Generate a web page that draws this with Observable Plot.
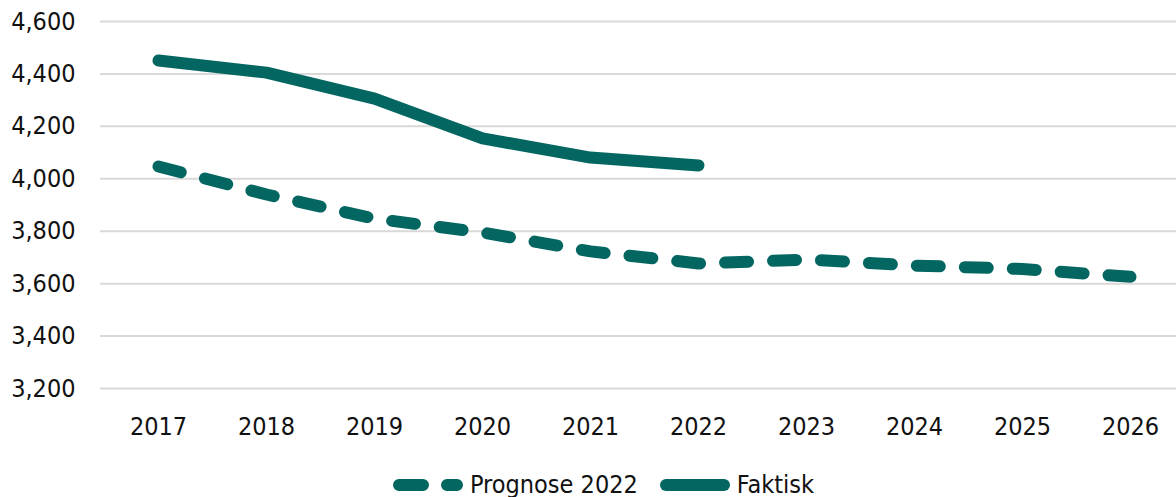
<!DOCTYPE html>
<html>
<head>
<meta charset="utf-8">
<script src="https://cdn.jsdelivr.net/npm/d3@7"></script>
<script src="https://cdn.jsdelivr.net/npm/@observablehq/plot@0.6"></script>
<style>
  html, body { margin: 0; background: #fff; font-family: "DejaVu Sans Condensed", "DejaVu Sans", sans-serif; font-stretch: condensed; overflow: hidden; }
  #chart svg { display: block; }
  #legend { display: flex; justify-content: flex-start; align-items: center; height: 24px; line-height: 24px; margin-top: 23px; font-size: 25px; color: #111; padding-left: 393px; }
  #legend .item { display: flex; align-items: center; margin-right: 22px; }
  #legend svg { margin-right: 7px; }
</style>
</head>
<body>
<div id="chart"></div>
<div id="legend"></div>
<script>
const years = ["2017","2018","2019","2020","2021","2022","2023","2024","2025","2026"];
const prognose = [4047, 3940, 3848, 3795, 3723, 3677, 3692, 3669, 3656, 3626];
const faktiskYears = ["2017","2018","2019","2020","2021","2022"];
const faktisk = [4451, 4405, 4306, 4154, 4081, 4051];
const yTicks = [3200, 3400, 3600, 3800, 4000, 4200, 4400, 4600];
const seriesNames = ["Prognose 2022", "Faktisk"];
const color = "#036661";

const progData = years.map((y, i) => ({year: y, value: prognose[i]}));
const faktData = faktiskYears.map((y, i) => ({year: y, value: faktisk[i]}));

const chart = Plot.plot({
  width: 1176,
  height: 450,
  marginLeft: 100,
  marginRight: 0,
  marginTop: 21,
  marginBottom: 62,
  style: {fontFamily: "'DejaVu Sans Condensed', 'DejaVu Sans', sans-serif", fontSize: "25px", color: "#111", background: "#fff", fontStretch: "condensed"},
  x: {type: "point", domain: years, range: [154, 1134], padding: 0, label: null},
  y: {domain: [3200, 4600], label: null},
  marks: [
    Plot.ruleY(yTicks, {stroke: "#d9d9d9", strokeWidth: 2}),
    Plot.axisY(yTicks, {tickSize: 0, tickPadding: 25, tickFormat: d3.format(","), label: null, fontSize: 25}),
    Plot.axisX(years, {tickSize: 0, tickPadding: 29, label: null, fontSize: 25}),
    Plot.line(progData, {x: "year", y: "value", stroke: color, strokeWidth: 12, strokeDasharray: "23,25", strokeLinecap: "round", strokeLinejoin: "round"}),
    Plot.line(faktData, {x: "year", y: "value", stroke: color, strokeWidth: 12, strokeLinecap: "round", strokeLinejoin: "round"})
  ]
});
document.getElementById("chart").appendChild(chart);

const legend = document.getElementById("legend");
seriesNames.forEach((name, i) => {
  const item = document.createElement("div");
  item.className = "item";
  const dashed = i === 0;
  item.innerHTML = `<svg width="70" height="14"><line x1="6" y1="7" x2="64" y2="7" stroke="${color}" stroke-width="12" stroke-linecap="round" ${dashed ? 'stroke-dasharray="24,24"' : ''}/></svg><span>${name}</span>`;
  legend.appendChild(item);
});
</script>
</body>
</html>
